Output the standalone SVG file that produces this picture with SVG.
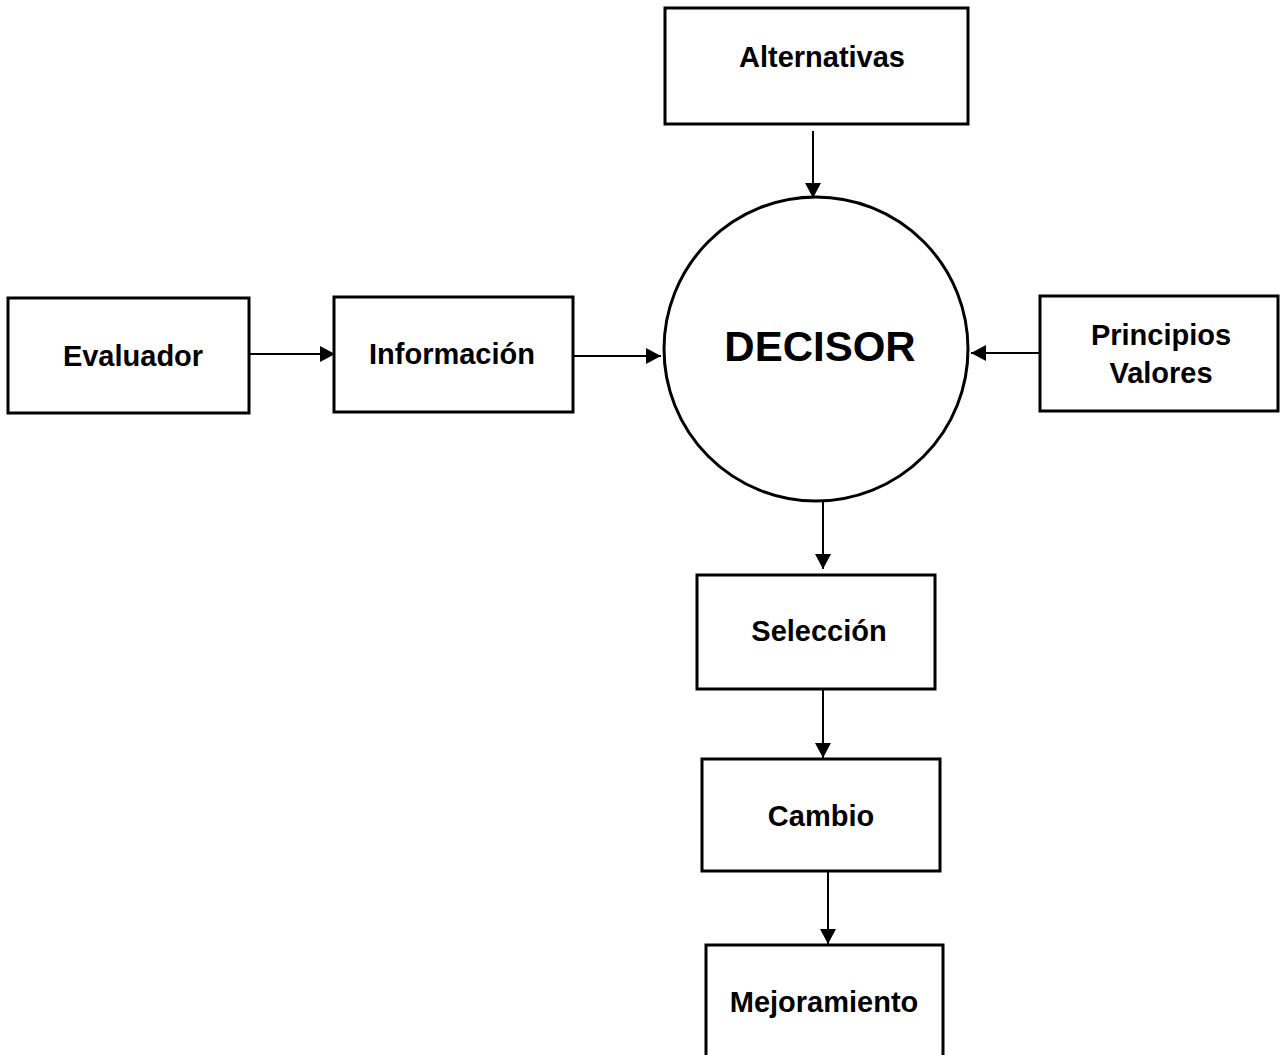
<svg xmlns="http://www.w3.org/2000/svg" width="1280" height="1055" viewBox="0 0 1280 1055">
<style>
.box{fill:#fff;stroke:#000;stroke-width:3}
.lbl{font-family:"Liberation Sans",Arial,sans-serif;font-weight:bold;font-size:29px;text-anchor:middle;fill:#000}
.big{font-size:42px}
.con{stroke:#000;stroke-width:2;fill:none;marker-end:url(#ah)}
</style>
<defs>
<marker id="ah" markerWidth="16" markerHeight="16" refX="15" refY="8" orient="auto" markerUnits="userSpaceOnUse">
<path d="M0,0 L15,8 L0,16 Z" fill="#000"/>
</marker>
</defs>
<rect width="1280" height="1055" fill="#fff"/>
<g id="connectors">
<line class="con" x1="813" y1="131" x2="813" y2="198"/>
<line class="con" x1="249" y1="354" x2="335" y2="354"/>
<line class="con" x1="573" y1="356" x2="661" y2="356"/>
<line class="con" x1="1039" y1="353" x2="971" y2="353"/>
<line class="con" x1="823" y1="500" x2="823" y2="569"/>
<line class="con" x1="823" y1="689" x2="823" y2="758"/>
<line class="con" x1="828" y1="871" x2="828" y2="944"/>
</g>
<g id="alternativas">
<rect class="box" x="665" y="8" width="303" height="116"/>
<text class="lbl" x="822" y="67">Alternativas</text>
</g>
<g id="decisor">
<circle cx="816" cy="349" r="152" fill="#fff" stroke="#000" stroke-width="3"/>
<text class="lbl big" x="820" y="361">DECISOR</text>
</g>
<g id="evaluador">
<rect class="box" x="8" y="298" width="241" height="115"/>
<text class="lbl" x="133" y="366">Evaluador</text>
</g>
<g id="informacion">
<rect class="box" x="334" y="297" width="239" height="115"/>
<text class="lbl" x="452" y="364">Información</text>
</g>
<g id="principios">
<rect class="box" x="1040" y="296" width="238" height="115"/>
<text class="lbl" x="1161" y="345">Principios</text>
<text class="lbl" x="1161" y="383">Valores</text>
</g>
<g id="seleccion">
<rect class="box" x="697" y="575" width="238" height="114"/>
<text class="lbl" x="819" y="641">Selección</text>
</g>
<g id="cambio">
<rect class="box" x="702" y="759" width="238" height="112"/>
<text class="lbl" x="821" y="826">Cambio</text>
</g>
<g id="mejoramiento">
<rect class="box" x="706" y="945" width="237" height="120"/>
<text class="lbl" x="824" y="1012">Mejoramiento</text>
</g>
</svg>
